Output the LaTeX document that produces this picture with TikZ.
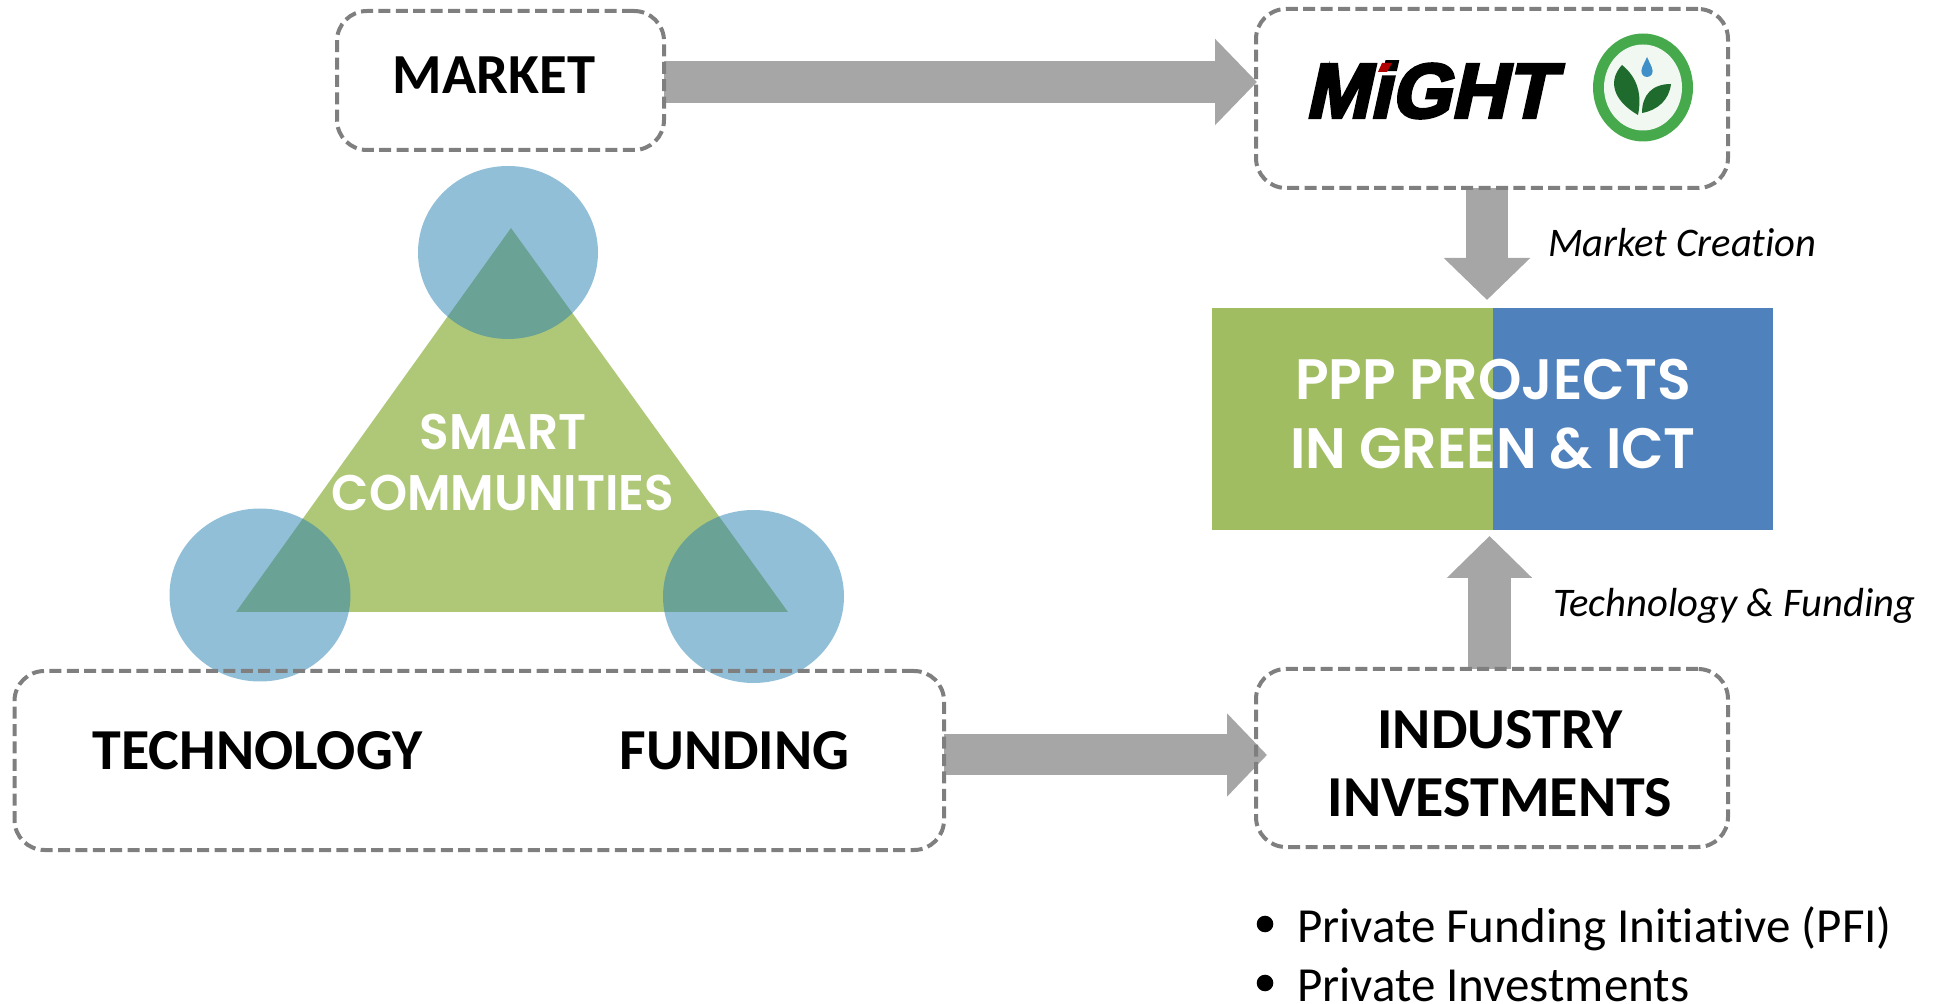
\documentclass[tikz,border=0pt]{standalone}
\usepackage{fontspec}
\usetikzlibrary{arrows.meta,backgrounds}
\setmainfont{Carlito}[Ligatures=NoCommon]
\newfontfamily\headfont{Poppins}[UprightFont=* SemiBold,FakeStretch=0.97]
\newfontfamily\mightfont{Liberation Sans}[UprightFont=* Bold,FakeSlant=0.22,FakeBold=4]
\definecolor{dashgrey}{HTML}{7F7F7F}
\definecolor{arrowgrey}{HTML}{A6A6A6}
\definecolor{pppgreen}{HTML}{A0BD62}
\definecolor{pppblue}{HTML}{4F81BD}
\definecolor{trigreen}{HTML}{AFC878}
\definecolor{circblue}{HTML}{2680B2}
\definecolor{ringgreen}{HTML}{46AA4C}
\definecolor{leafgreen}{HTML}{1F6B2E}
\definecolor{dropblue}{HTML}{3F8FC8}
\tikzset{
  dbox/.style={draw=dashgrey,line width=2pt,dash pattern=on 6pt off 2.7pt,rounded corners=15pt,inner sep=0pt,outer sep=0pt},
  boxtext/.style={inner sep=0pt,outer sep=0pt,text=black,font=\fontsize{29}{34}\selectfont\bfseries,align=center},
  whitetext/.style={inner sep=0pt,outer sep=0pt,text=white,align=center},
  itlabel/.style={inner sep=0pt,outer sep=0pt,anchor=base west,font=\fontsize{20.3}{24}\selectfont\itshape},
  bullettext/.style={inner sep=0pt,outer sep=0pt,anchor=base west,font=\fontsize{24.5}{28}\selectfont},
  bulletdot/.style={circle,fill=black,inner sep=0pt,outer sep=0pt,minimum size=8.3pt},
  pppcell/.style={inner sep=0pt,outer sep=0pt,minimum height=111pt},
  circ/.style={fill=circblue,fill opacity=0.5}
}
\begin{document}
\begin{tikzpicture}[x=0.5pt,y=-0.5pt]
\useasboundingbox (0,0) rectangle (1933,1004);
% triangle and circles
\fill[trigreen] (511,228) -- (788,612) -- (236,612) -- cycle;
\fill[circ] (508,252.5) ellipse [x radius=90,y radius=86.5];
\fill[circ] (260,595) ellipse [x radius=90.5,y radius=86.5];
\fill[circ] (753.5,596.5) ellipse [x radius=90.5,y radius=86.5];
\node[whitetext,font=\fontsize{25}{30.5}\selectfont\headfont] (smart) at (503,462.5) {SMART\\COMMUNITIES};
% boxes
\node[dbox,minimum width=163.5pt,minimum height=69.5pt] (market) at (500.5,80.5) {};
\node[dbox,minimum width=236pt,minimum height=89.5pt] (might) at (1492,98.5) {};
\node[dbox,minimum width=464.75pt,minimum height=89.5pt] (techfund) at (479.25,760.5) {};
\node[dbox,minimum width=236pt,minimum height=89pt] (industry) at (1492,758) {};
% PPP
\node[pppcell,fill=pppgreen,minimum width=140.5pt] (pppg) at (1352.5,419) {};
\node[pppcell,fill=pppblue,minimum width=140pt] (pppb) at (1633,419) {};
\node[whitetext,font=\fontsize{28.5}{34.5}\selectfont\headfont] (ppptext) at (1493,414.5) {PPP PROJECTS\\IN GREEN \& ICT};
% arrow ends
\coordinate (mkS) at (664,82);
\coordinate (mkE) at (1257,82);
\coordinate (dnS) at (1487,188);
\coordinate (dnE) at (1487,300);
\coordinate (upS) at (1489.5,669);
\coordinate (upE) at (1489.5,536);
\coordinate (riS) at (944,755);
\coordinate (riE) at (1267,755);
% arrows under the dashed outlines
\begin{scope}[on background layer]
\draw[arrowgrey,line width=21pt,-{Triangle[length=21pt,width=42pt]}] (mkS) -- (mkE);
\draw[arrowgrey,line width=21pt,-{Triangle[length=21pt,width=42pt]}] (dnS) -- (dnE);
\draw[arrowgrey,line width=21.5pt,-{Triangle[length=21pt,width=41.5pt]}] (upS) -- (upE);
\draw[arrowgrey,line width=20.5pt,-{Triangle[length=20pt,width=40.5pt]}] (riS) -- (riE);
\end{scope}
% labels
\node[boxtext,anchor=base,font=\fontsize{28.3}{34}\selectfont\bfseries] (marketl) at (494,94) {MARKET};
\node[boxtext,anchor=base] (techl) at (257.5,769.5) {TECHNOLOGY};
\node[boxtext,anchor=base] (fundl) at (734.5,769.5) {FUNDING};
\node[boxtext] (indl) at (1500,763.5) {INDUSTRY\\INVESTMENTS};
\node[itlabel] (mclabel) at (1548,257) {Market Creation};
\node[itlabel] (tflabel) at (1553,617) {Technology \& Funding};
\node[bulletdot] (b1) at (1265,924) {};
\node[bulletdot] (b2) at (1265,983) {};
\node[bullettext] (b1t) at (1297,942) {Private Funding Initiative (PFI)};
\node[bullettext] (b2t) at (1297,1001) {Private Investments};
% MIGHT logo
\node[inner sep=0pt,outer sep=0pt,anchor=center,font=\fontsize{38.5}{40}\mightfont] (mightl) at (1429,90) {MiGHT};
\fill[red!70!black] (1378,72) -- (1382,63) -- (1392,63) -- (1387,72) -- cycle;
% emblem
\fill[ringgreen] (1643,87.5) ellipse [x radius=50,y radius=54];
\fill[white!92!ringgreen] (1643,87.5) ellipse [x radius=39,y radius=43];
\fill[leafgreen] (1638,115) .. controls (1612,100) and (1608,80) .. (1622,65) .. controls (1638,78) and (1642,95) .. (1638,115) -- cycle;
\fill[leafgreen] (1642,113) .. controls (1642,95) and (1652,84) .. (1671,84) .. controls (1669,100) and (1658,110) .. (1642,113) -- cycle;
\fill[dropblue] (1647,57) .. controls (1651,66) and (1654,70) .. (1652,74) .. controls (1650,78) and (1644,78) .. (1642,74) .. controls (1640,70) and (1643,66) .. (1647,57) -- cycle;
\end{tikzpicture}
\end{document}
